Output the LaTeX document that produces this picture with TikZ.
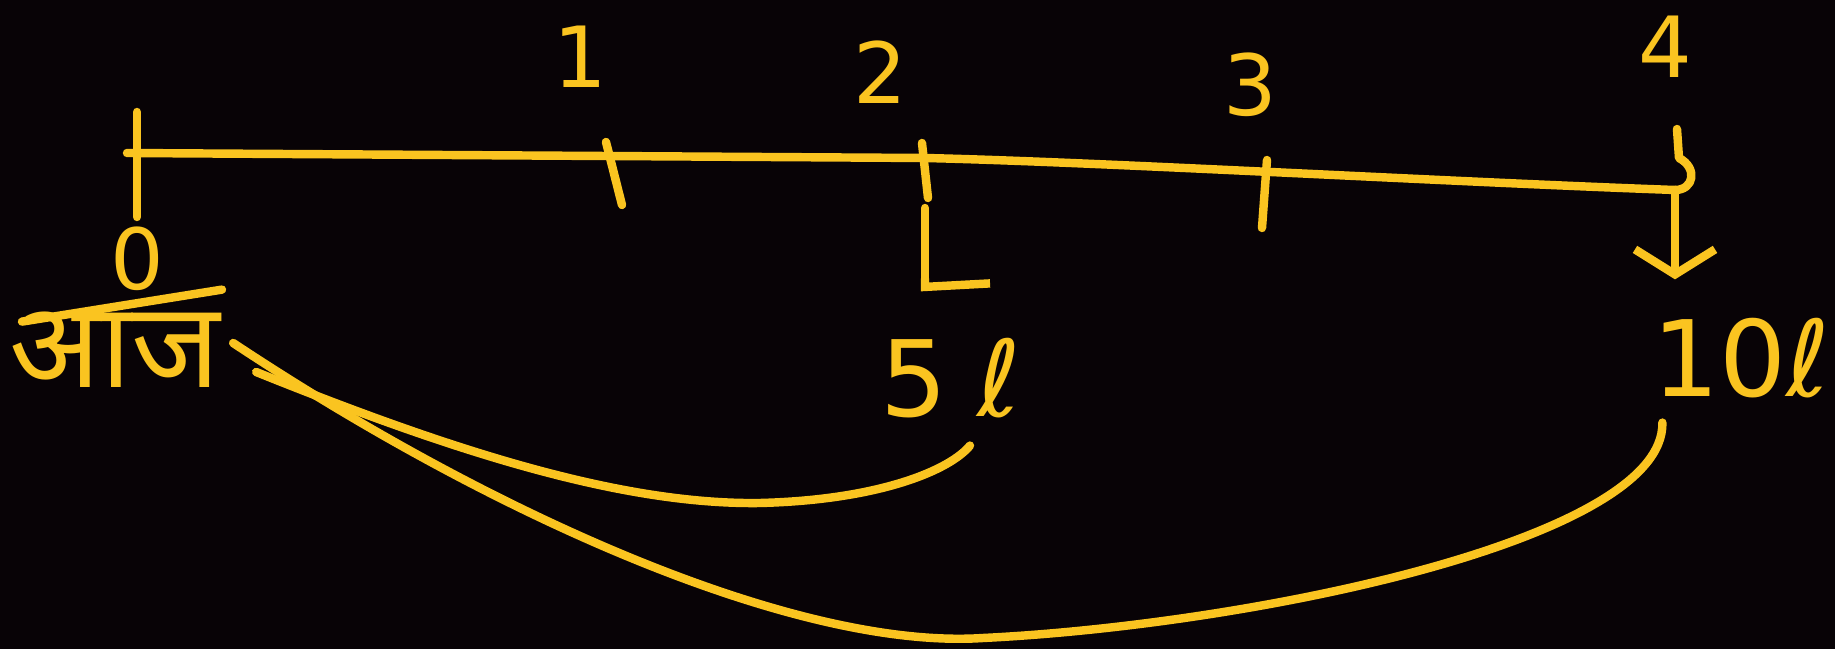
\documentclass[tikz,border=0pt]{standalone}
\usepackage{fontspec}
\setmainfont{DejaVu Sans}
\newfontfamily\hindi[Script=Devanagari]{Noto Sans}
\usepackage{tikz}
\usetikzlibrary{arrows.meta, positioning, calc}
\definecolor{chalk}{RGB}{250,196,32}
\definecolor{board}{RGB}{8,3,6}
\tikzset{
  pen/.style = {
    draw=chalk, line width=2.4pt, line cap=round, line join=round
  },
  numlabel/.style = {
    text=chalk, inner sep=0pt, font=\fontsize{24}{24}\selectfont
  },
  amount/.style = {
    text=chalk, inner sep=0pt, font=\fontsize{30}{30}\selectfont
  },
  hindilabel/.style = {
    text=chalk, inner sep=0pt, font=\hindi\fontsize{34}{34}\selectfont
  },
  halfarrow/.style = {pen, -{Straight Barb[left, length=1pt, width=1.3cm]}},
  openarrow/.style = {pen, -{Straight Barb[length=0.25cm, width=0.8cm]}}
}

\begin{document}
\begin{tikzpicture}[x=0.01cm, y=-0.01cm]   % one unit = one pixel, y downwards

\fill[board] (0,0) rectangle (1835,649);
\useasboundingbox (0,0) rectangle (1835,649);

% ----- TIMELINE -----
\coordinate (T0) at (137,153);
\coordinate (T1) at (612,155);
\coordinate (T2) at (925,158);
\coordinate (T3) at (1264,172);
\coordinate (T4) at (1675,190);

\draw[pen] ($(T0)+(-10,0)$) -- (T2) .. controls (1100,162) and (1450,182) .. (T4);

% ticks
\draw[pen] ($(T0)+(0,-41)$)  -- ($(T0)+(0,64)$);
\draw[pen] ($(T1)+(-6,-13)$) -- ($(T1)+(10,50)$);
\draw[pen] ($(T2)+(-3,-15)$) -- ($(T2)+(3,40)$);
\draw[pen] ($(T3)+(3,-12)$)  -- ($(T3)+(-2,56)$);
\draw[pen] ($(T4)+(2,-61)$)  -- ($(T4)+(4,-32)$) .. controls (1698,168) and (1694,190) .. (T4);

% ----- NODES -----
\node[numlabel]   (Y1)  at (580,57)   {1};
\node[numlabel]   (Y2)  at (880,72)   {2};
\node[numlabel]   (Y3)  at (1250,85)  {3};
\node[numlabel]   (Y4)  at (1665,47)  {4};
\node[numlabel]   (Y0)  at (137,259)  {0};
\node[hindilabel] (Now) at (115,350)  {आज};
\node[amount]     (V5)  at (951,378)  {5\hspace{0.3cm}ℓ};
\node[amount]     (V10) at (1741,358) {10ℓ};

% bar between 0 and aaj
\draw[pen] ($(Y0.south)+(-115,30)$) -- ($(Y0.south)+(85,-2)$);

% ----- ARROWS -----
\draw[halfarrow, shorten <=0.5cm, shorten >=0.46cm] (T2) -- (T2 |- V5.north);
\draw[openarrow, shorten >=0.38cm] (T4) -- (T4 |- V10.north);

% today --> 5 and 10
\draw[pen] ($(Now.east)+(35,22)$) .. controls (450,450) and (620,505) .. (760,503)
  .. controls (880,500) and (950,470) .. ($(V5.south)+(19,27)$);
\draw[pen] ($(Now.east)+(12,-7)$) .. controls (500,520) and (800,650) .. (983,638)
  .. controls (1250,625) and (1665,540) .. ($(V10.south west)+(11,24)$);

\end{tikzpicture}
\end{document}
